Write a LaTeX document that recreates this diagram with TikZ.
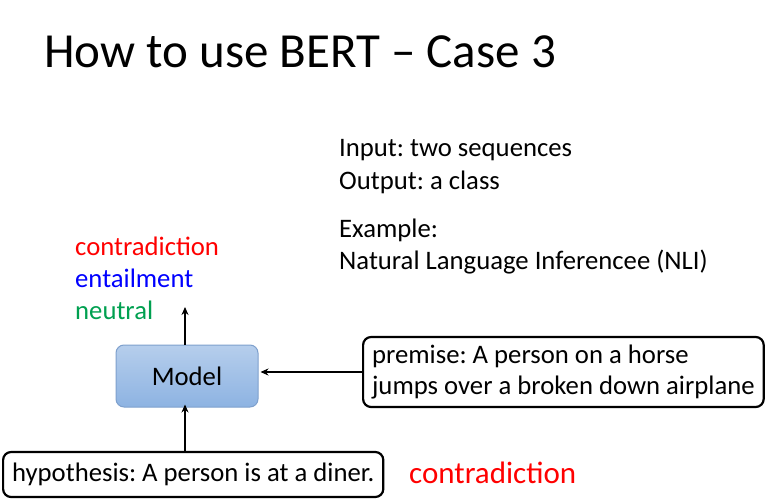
\documentclass[tikz,border=0pt]{standalone}
\usepackage{fontspec}
\setmainfont{Carlito}
\usetikzlibrary{arrows.meta}
\frenchspacing
\definecolor{labelred}{RGB}{255,0,0}
\definecolor{labelblue}{RGB}{0,0,255}
\definecolor{labelgreen}{RGB}{0,160,80}
\definecolor{modeltop}{RGB}{182,206,236}
\definecolor{modelbottom}{RGB}{141,179,226}
\definecolor{modelline}{RGB}{126,160,205}
\begin{document}
\begin{tikzpicture}[x=1pt,y=-1pt,
	txt/.style={font=\fontsize{26.7}{32}\selectfont, inner sep=0pt},
	sentbox/.style={draw, line width=2.2pt, rounded corners=8pt, font=\fontsize{26.7}{31}\selectfont, align=left, inner xsep=9pt},
	arr/.style={-{Stealth[length=8pt,width=7pt]}, line width=2pt}]
	\useasboundingbox (0,0) rectangle (779,503);
	\node[anchor=base west, inner sep=0pt, font=\fontsize{49}{58}\selectfont] (title) at (44,67){How to use BERT -- Case 3};
	
	\node[txt, anchor=base west] (input) at (339,156){Input: two sequences};
	\node[txt, anchor=base west] (output) at (339,189){Output: a class};
	\node[txt, anchor=base west] (example) at (339,237){Example:};
	\node[txt, anchor=base west] (nli) at (339,269){Natural Language Inferencee (NLI)};
	
	\node[txt, anchor=base west, labelred] (contra) at (75,255){contradiction};
	\node[txt, anchor=base west, labelblue] (entail) at (75,287){entailment};
	\node[txt, anchor=base west, labelgreen] (neutral) at (75,319){neutral};
	
	\node[draw=modelline, line width=1pt, rounded corners=8pt, top color=modeltop, bottom color=modelbottom, minimum width=142pt, minimum height=62pt, font=\fontsize{26.7}{32}\selectfont] (model) at (187,376){Model};
	
	\node[sentbox, anchor=west, minimum height=70pt] (premise) at (362,372){premise: A person on a horse\\jumps over a broken down airplane};
	\node[sentbox, anchor=west, minimum height=45pt] (hypo) at (2,474.5){hypothesis: A person is at a diner.};
	\node[txt, anchor=base west, labelred, font=\fontsize{31}{36}\selectfont] (answer) at (409,483){contradiction};
	
	\coordinate (up) at (185,307);
	\draw[arr] (model.north -| up) -- (up);
	\draw[arr] (premise.west) -- ([xshift=2pt]model.east |- premise.west);
	\draw[arr] (hypo.north -| up) -- ([yshift=3pt]model.south -| up);
\end{tikzpicture}
\end{document}
